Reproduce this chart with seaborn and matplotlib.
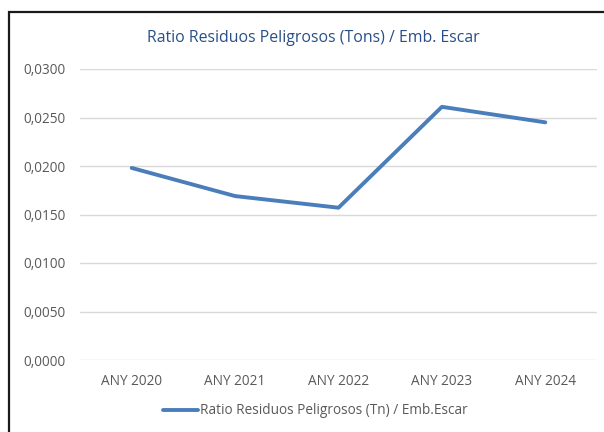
import matplotlib
matplotlib.use('Agg')
import matplotlib.pyplot as plt
import matplotlib.patches as patches
from matplotlib.lines import Line2D
from matplotlib.ticker import FuncFormatter
import pandas as pd
import seaborn as sns

years = ['ANY 2020', 'ANY 2021', 'ANY 2022', 'ANY 2023', 'ANY 2024']
ratio = [0.0198, 0.0169, 0.0157, 0.0261, 0.0245]

title = 'Ratio Residuos Peligrosos (Tons) / Emb. Escar'
series_name = 'Ratio Residuos Peligrosos (Tn) / Emb.Escar'

sns.set_style('white')
plt.rcParams['font.family'] = ['Open Sans', 'DejaVu Sans']

df = pd.DataFrame({'year': years, 'ratio': ratio})

fig = plt.figure(figsize=(6.04, 4.32), dpi=100)
ax = fig.add_axes([80 / 604, 1 - 360 / 432, 517 / 604, 291 / 432])

line_color = '#4A7EBB'
sns.lineplot(data=df, x='year', y='ratio', ax=ax, color=line_color,
             linewidth=2.8, sort=False)

ax.set_xlim(-0.5, len(years) - 0.5)
ax.set_ylim(0, 0.03)
ax.set_yticks([0.0, 0.005, 0.01, 0.015, 0.02, 0.025, 0.03])
ax.yaxis.set_major_formatter(FuncFormatter(lambda v, _: f'{v:.4f}'.replace('.', ',')))
ax.grid(axis='y', color='#D9D9D9', linewidth=1)
ax.set_axisbelow(True)
for s in ax.spines.values():
    s.set_visible(False)
ax.tick_params(axis='both', length=0, labelsize=9.8, labelcolor='#595959')
ax.tick_params(axis='y', pad=10)
ax.tick_params(axis='x', pad=10)
ax.set_xlabel('')
ax.set_ylabel('')

fig.text(313 / 604, 1 - 38 / 432, title, ha='center', va='center',
         fontsize=11.4, color='#284F88')

handle = Line2D([], [], color=line_color, linewidth=2.8)
fig.legend([handle], [series_name], loc='center', bbox_to_anchor=(315 / 604, 1 - 411 / 432),
           frameon=False, fontsize=9.8, labelcolor='#595959', handlelength=2.6,
           handletextpad=0.1)

# outer chart frame (cropped on the right and bottom)
fig.patches.append(patches.Rectangle((9 / 604, -0.1), 1.2, 1 - 12 / 432 + 0.1,
                                     transform=fig.transFigure, fill=False,
                                     edgecolor='#1A1A1A', linewidth=1.6))

fig.savefig('out.png', dpi=100)
